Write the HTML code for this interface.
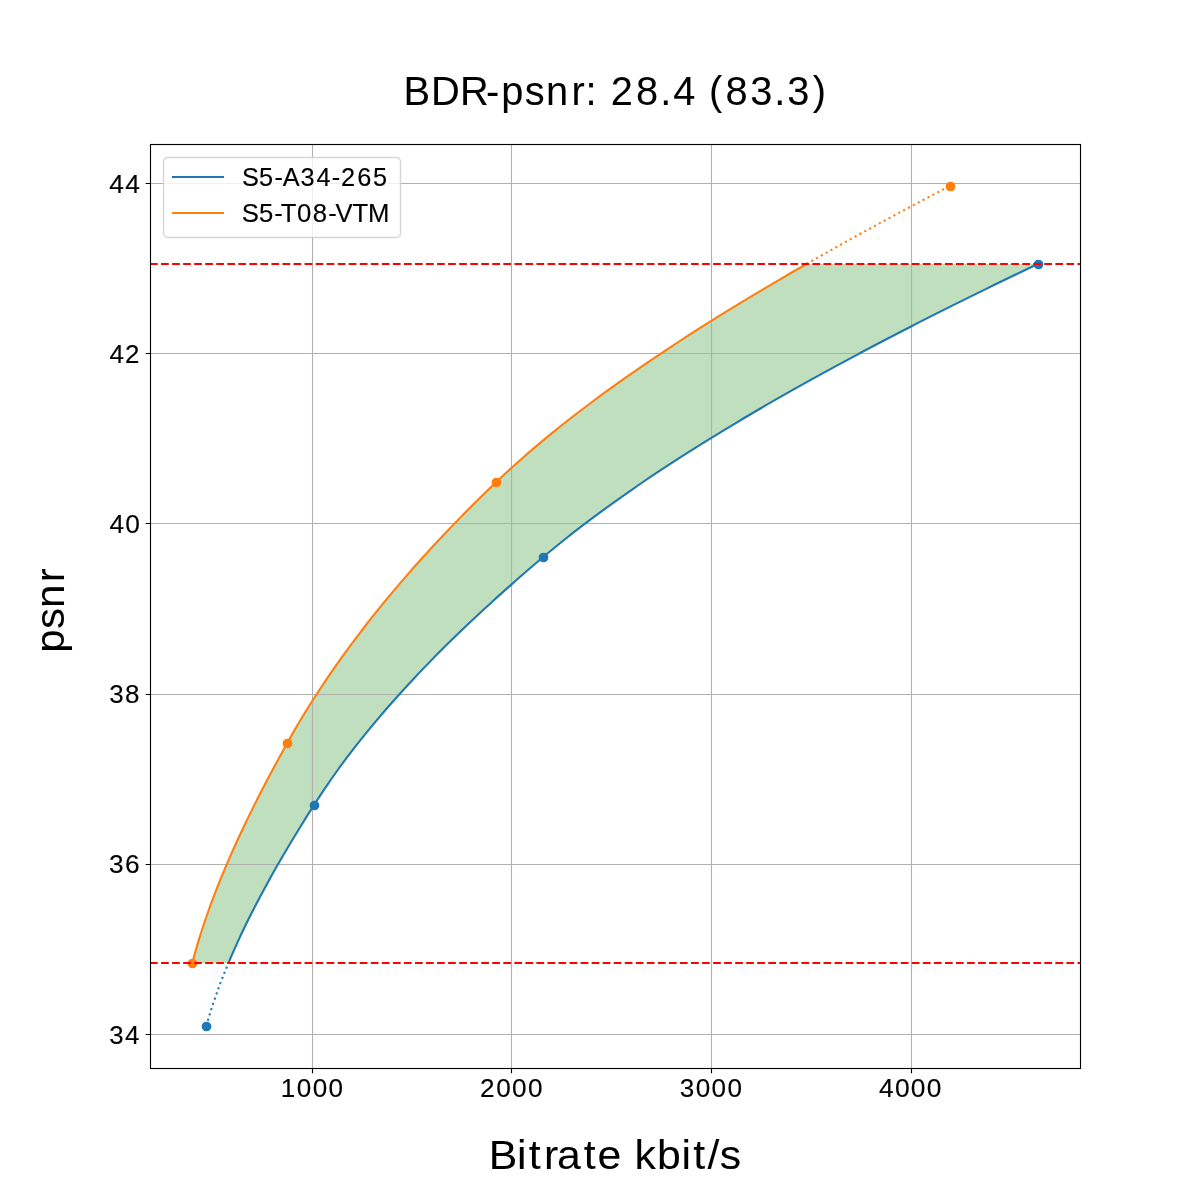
<!DOCTYPE html>
<html><head><meta charset="utf-8"><title>BDR-psnr chart</title>
<style>html,body{margin:0;padding:0;background:#fff;}svg{display:block;will-change:transform;}text{font-family:"Liberation Sans",sans-serif;fill:#000;stroke:#000;}.s{stroke-width:0.15px;}.l{stroke-width:0.05px;}</style>
</head><body>
<svg width="1200" height="1200" viewBox="0 0 1200 1200">
<rect x="0" y="0" width="1200" height="1200" fill="#ffffff"/>
<polygon points="228.49,962.91 229.97,959.4 231.47,955.89 233,952.37 234.55,948.86 236.13,945.35 237.72,941.84 239.34,938.33 240.98,934.81 242.64,931.3 244.32,927.79 246.03,924.28 247.75,920.77 249.49,917.25 251.26,913.74 253.04,910.23 254.84,906.72 256.67,903.2 258.51,899.69 260.36,896.18 262.24,892.67 264.13,889.16 266.05,885.64 267.97,882.13 269.92,878.62 271.88,875.11 273.86,871.59 275.85,868.08 277.86,864.57 279.89,861.06 281.92,857.55 283.98,854.03 286.05,850.52 288.13,847.01 290.22,843.5 292.33,839.98 294.45,836.47 296.59,832.96 298.73,829.45 300.89,825.94 303.06,822.42 305.24,818.91 307.44,815.4 309.64,811.89 311.86,808.38 314.08,804.86 316.32,801.35 318.6,797.84 320.91,794.33 323.25,790.81 325.62,787.3 328.02,783.79 330.45,780.28 332.92,776.77 335.41,773.25 337.94,769.74 340.5,766.23 343.08,762.72 345.7,759.2 348.35,755.69 351.02,752.18 353.73,748.67 356.47,745.16 359.23,741.64 362.03,738.13 364.85,734.62 367.71,731.11 370.59,727.59 373.51,724.08 376.45,720.57 379.42,717.06 382.42,713.55 385.45,710.03 388.5,706.52 391.59,703.01 394.7,699.5 397.84,695.99 401.01,692.47 404.21,688.96 407.43,685.45 410.68,681.94 413.96,678.42 417.27,674.91 420.6,671.4 423.96,667.89 427.35,664.38 430.77,660.86 434.21,657.35 437.67,653.84 441.17,650.33 444.69,646.81 448.24,643.3 451.81,639.79 455.41,636.28 459.03,632.77 462.68,629.25 466.36,625.74 470.06,622.23 473.79,618.72 477.54,615.2 481.31,611.69 485.12,608.18 488.94,604.67 492.79,601.16 496.67,597.64 500.57,594.13 504.49,590.62 508.44,587.11 512.41,583.6 516.41,580.08 520.43,576.57 524.48,573.06 528.54,569.55 532.63,566.03 536.75,562.52 540.89,559.01 545.05,555.5 549.26,551.99 553.52,548.47 557.83,544.96 562.18,541.45 566.59,537.94 571.04,534.42 575.54,530.91 580.09,527.4 584.69,523.89 589.34,520.38 594.03,516.86 598.77,513.35 603.55,509.84 608.38,506.33 613.26,502.81 618.18,499.3 623.15,495.79 628.16,492.28 633.21,488.77 638.32,485.25 643.46,481.74 648.65,478.23 653.89,474.72 659.16,471.21 664.48,467.69 669.85,464.18 675.25,460.67 680.7,457.16 686.19,453.64 691.72,450.13 697.3,446.62 702.91,443.11 708.57,439.6 714.26,436.08 720,432.57 725.78,429.06 731.6,425.55 737.45,422.03 743.35,418.52 749.29,415.01 755.26,411.5 761.27,407.99 767.32,404.47 773.41,400.96 779.54,397.45 785.71,393.94 791.91,390.42 798.15,386.91 804.42,383.4 810.73,379.89 817.08,376.38 823.47,372.86 829.89,369.35 836.34,365.84 842.83,362.33 849.36,358.82 855.92,355.3 862.51,351.79 869.14,348.28 875.8,344.77 882.5,341.25 889.23,337.74 895.99,334.23 902.78,330.72 909.61,327.21 916.47,323.69 923.36,320.18 930.28,316.67 937.24,313.16 944.22,309.64 951.24,306.13 958.28,302.62 965.36,299.11 972.46,295.6 979.6,292.08 986.77,288.57 993.96,285.06 1001.18,281.55 1008.44,278.03 1015.72,274.52 1023.03,271.01 1030.36,267.5 1037.73,263.99 806.51,263.99 800.39,267.5 794.3,271.01 788.24,274.52 782.21,278.03 776.21,281.55 770.25,285.06 764.32,288.57 758.42,292.08 752.56,295.6 746.73,299.11 740.93,302.62 735.16,306.13 729.43,309.64 723.74,313.16 718.08,316.67 712.45,320.18 706.86,323.69 701.3,327.21 695.78,330.72 690.3,334.23 684.85,337.74 679.44,341.25 674.07,344.77 668.74,348.28 663.44,351.79 658.18,355.3 652.96,358.82 647.77,362.33 642.63,365.84 637.53,369.35 632.46,372.86 627.43,376.38 622.45,379.89 617.5,383.4 612.6,386.91 607.73,390.42 602.91,393.94 598.13,397.45 593.39,400.96 588.69,404.47 584.03,407.99 579.42,411.5 574.85,415.01 570.32,418.52 565.84,422.03 561.4,425.55 557,429.06 552.65,432.57 548.35,436.08 544.08,439.6 539.87,443.11 535.7,446.62 531.57,450.13 527.49,453.64 523.46,457.16 519.47,460.67 515.53,464.18 511.64,467.69 507.8,471.21 504,474.72 500.25,478.23 496.55,481.74 492.89,485.25 489.25,488.77 485.64,492.28 482.05,495.79 478.48,499.3 474.93,502.81 471.41,506.33 467.91,509.84 464.44,513.35 460.98,516.86 457.55,520.38 454.14,523.89 450.76,527.4 447.4,530.91 444.06,534.42 440.75,537.94 437.46,541.45 434.19,544.96 430.94,548.47 427.72,551.99 424.52,555.5 421.34,559.01 418.19,562.52 415.06,566.03 411.95,569.55 408.87,573.06 405.81,576.57 402.77,580.08 399.75,583.6 396.76,587.11 393.79,590.62 390.85,594.13 387.92,597.64 385.02,601.16 382.15,604.67 379.3,608.18 376.46,611.69 373.66,615.2 370.87,618.72 368.11,622.23 365.38,625.74 362.66,629.25 359.97,632.77 357.3,636.28 354.66,639.79 352.03,643.3 349.43,646.81 346.86,650.33 344.3,653.84 341.77,657.35 339.27,660.86 336.78,664.38 334.32,667.89 331.89,671.4 329.47,674.91 327.08,678.42 324.71,681.94 322.37,685.45 320.05,688.96 317.75,692.47 315.47,695.99 313.22,699.5 310.99,703.01 308.78,706.52 306.6,710.03 304.44,713.55 302.31,717.06 300.19,720.57 298.1,724.08 296.03,727.59 293.99,731.11 291.97,734.62 289.97,738.13 288,741.64 286.04,745.16 284.1,748.67 282.16,752.18 280.24,755.69 278.32,759.2 276.42,762.72 274.52,766.23 272.64,769.74 270.77,773.25 268.91,776.77 267.05,780.28 265.22,783.79 263.39,787.3 261.57,790.81 259.77,794.33 257.98,797.84 256.2,801.35 254.44,804.86 252.68,808.38 250.95,811.89 249.22,815.4 247.51,818.91 245.81,822.42 244.13,825.94 242.46,829.45 240.81,832.96 239.17,836.47 237.55,839.98 235.94,843.5 234.35,847.01 232.78,850.52 231.22,854.03 229.68,857.55 228.15,861.06 226.64,864.57 225.15,868.08 223.68,871.59 222.22,875.11 220.78,878.62 219.36,882.13 217.96,885.64 216.58,889.16 215.22,892.67 213.87,896.18 212.55,899.69 211.24,903.2 209.95,906.72 208.69,910.23 207.44,913.74 206.22,917.25 205.01,920.77 203.83,924.28 202.67,927.79 201.53,931.3 200.41,934.81 199.31,938.33 198.24,941.84 197.19,945.35 196.16,948.86 195.15,952.37 194.17,955.89 193.21,959.4 192.27,962.91" fill="#008000" fill-opacity="0.25" stroke="none"/>
<path d="M312.5 144V1068 M511.5 144V1068 M711.5 144V1068 M911.5 144V1068 M150 183.5H1080 M150 353.5H1080 M150 523.5H1080 M150 694.5H1080 M150 864.5H1080 M150 1034.5H1080" stroke="#b0b0b0" stroke-width="1.1111" fill="none"/>
<polyline points="228.49,962.91 229.97,959.4 231.47,955.89 233,952.37 234.55,948.86 236.13,945.35 237.72,941.84 239.34,938.33 240.98,934.81 242.64,931.3 244.32,927.79 246.03,924.28 247.75,920.77 249.49,917.25 251.26,913.74 253.04,910.23 254.84,906.72 256.67,903.2 258.51,899.69 260.36,896.18 262.24,892.67 264.13,889.16 266.05,885.64 267.97,882.13 269.92,878.62 271.88,875.11 273.86,871.59 275.85,868.08 277.86,864.57 279.89,861.06 281.92,857.55 283.98,854.03 286.05,850.52 288.13,847.01 290.22,843.5 292.33,839.98 294.45,836.47 296.59,832.96 298.73,829.45 300.89,825.94 303.06,822.42 305.24,818.91 307.44,815.4 309.64,811.89 311.86,808.38 314.08,804.86 316.32,801.35 318.6,797.84 320.91,794.33 323.25,790.81 325.62,787.3 328.02,783.79 330.45,780.28 332.92,776.77 335.41,773.25 337.94,769.74 340.5,766.23 343.08,762.72 345.7,759.2 348.35,755.69 351.02,752.18 353.73,748.67 356.47,745.16 359.23,741.64 362.03,738.13 364.85,734.62 367.71,731.11 370.59,727.59 373.51,724.08 376.45,720.57 379.42,717.06 382.42,713.55 385.45,710.03 388.5,706.52 391.59,703.01 394.7,699.5 397.84,695.99 401.01,692.47 404.21,688.96 407.43,685.45 410.68,681.94 413.96,678.42 417.27,674.91 420.6,671.4 423.96,667.89 427.35,664.38 430.77,660.86 434.21,657.35 437.67,653.84 441.17,650.33 444.69,646.81 448.24,643.3 451.81,639.79 455.41,636.28 459.03,632.77 462.68,629.25 466.36,625.74 470.06,622.23 473.79,618.72 477.54,615.2 481.31,611.69 485.12,608.18 488.94,604.67 492.79,601.16 496.67,597.64 500.57,594.13 504.49,590.62 508.44,587.11 512.41,583.6 516.41,580.08 520.43,576.57 524.48,573.06 528.54,569.55 532.63,566.03 536.75,562.52 540.89,559.01 545.05,555.5 549.26,551.99 553.52,548.47 557.83,544.96 562.18,541.45 566.59,537.94 571.04,534.42 575.54,530.91 580.09,527.4 584.69,523.89 589.34,520.38 594.03,516.86 598.77,513.35 603.55,509.84 608.38,506.33 613.26,502.81 618.18,499.3 623.15,495.79 628.16,492.28 633.21,488.77 638.32,485.25 643.46,481.74 648.65,478.23 653.89,474.72 659.16,471.21 664.48,467.69 669.85,464.18 675.25,460.67 680.7,457.16 686.19,453.64 691.72,450.13 697.3,446.62 702.91,443.11 708.57,439.6 714.26,436.08 720,432.57 725.78,429.06 731.6,425.55 737.45,422.03 743.35,418.52 749.29,415.01 755.26,411.5 761.27,407.99 767.32,404.47 773.41,400.96 779.54,397.45 785.71,393.94 791.91,390.42 798.15,386.91 804.42,383.4 810.73,379.89 817.08,376.38 823.47,372.86 829.89,369.35 836.34,365.84 842.83,362.33 849.36,358.82 855.92,355.3 862.51,351.79 869.14,348.28 875.8,344.77 882.5,341.25 889.23,337.74 895.99,334.23 902.78,330.72 909.61,327.21 916.47,323.69 923.36,320.18 930.28,316.67 937.24,313.16 944.22,309.64 951.24,306.13 958.28,302.62 965.36,299.11 972.46,295.6 979.6,292.08 986.77,288.57 993.96,285.06 1001.18,281.55 1008.44,278.03 1015.72,274.52 1023.03,271.01 1030.36,267.5 1037.73,263.99" fill="none" stroke="#1f77b4" stroke-width="2.0833" stroke-linecap="square" stroke-linejoin="round"/>
<polyline points="192.27,962.91 193.21,959.4 194.17,955.89 195.15,952.37 196.16,948.86 197.19,945.35 198.24,941.84 199.31,938.33 200.41,934.81 201.53,931.3 202.67,927.79 203.83,924.28 205.01,920.77 206.22,917.25 207.44,913.74 208.69,910.23 209.95,906.72 211.24,903.2 212.55,899.69 213.87,896.18 215.22,892.67 216.58,889.16 217.96,885.64 219.36,882.13 220.78,878.62 222.22,875.11 223.68,871.59 225.15,868.08 226.64,864.57 228.15,861.06 229.68,857.55 231.22,854.03 232.78,850.52 234.35,847.01 235.94,843.5 237.55,839.98 239.17,836.47 240.81,832.96 242.46,829.45 244.13,825.94 245.81,822.42 247.51,818.91 249.22,815.4 250.95,811.89 252.68,808.38 254.44,804.86 256.2,801.35 257.98,797.84 259.77,794.33 261.57,790.81 263.39,787.3 265.22,783.79 267.05,780.28 268.91,776.77 270.77,773.25 272.64,769.74 274.52,766.23 276.42,762.72 278.32,759.2 280.24,755.69 282.16,752.18 284.1,748.67 286.04,745.16 288,741.64 289.97,738.13 291.97,734.62 293.99,731.11 296.03,727.59 298.1,724.08 300.19,720.57 302.31,717.06 304.44,713.55 306.6,710.03 308.78,706.52 310.99,703.01 313.22,699.5 315.47,695.99 317.75,692.47 320.05,688.96 322.37,685.45 324.71,681.94 327.08,678.42 329.47,674.91 331.89,671.4 334.32,667.89 336.78,664.38 339.27,660.86 341.77,657.35 344.3,653.84 346.86,650.33 349.43,646.81 352.03,643.3 354.66,639.79 357.3,636.28 359.97,632.77 362.66,629.25 365.38,625.74 368.11,622.23 370.87,618.72 373.66,615.2 376.46,611.69 379.3,608.18 382.15,604.67 385.02,601.16 387.92,597.64 390.85,594.13 393.79,590.62 396.76,587.11 399.75,583.6 402.77,580.08 405.81,576.57 408.87,573.06 411.95,569.55 415.06,566.03 418.19,562.52 421.34,559.01 424.52,555.5 427.72,551.99 430.94,548.47 434.19,544.96 437.46,541.45 440.75,537.94 444.06,534.42 447.4,530.91 450.76,527.4 454.14,523.89 457.55,520.38 460.98,516.86 464.44,513.35 467.91,509.84 471.41,506.33 474.93,502.81 478.48,499.3 482.05,495.79 485.64,492.28 489.25,488.77 492.89,485.25 496.55,481.74 500.25,478.23 504,474.72 507.8,471.21 511.64,467.69 515.53,464.18 519.47,460.67 523.46,457.16 527.49,453.64 531.57,450.13 535.7,446.62 539.87,443.11 544.08,439.6 548.35,436.08 552.65,432.57 557,429.06 561.4,425.55 565.84,422.03 570.32,418.52 574.85,415.01 579.42,411.5 584.03,407.99 588.69,404.47 593.39,400.96 598.13,397.45 602.91,393.94 607.73,390.42 612.6,386.91 617.5,383.4 622.45,379.89 627.43,376.38 632.46,372.86 637.53,369.35 642.63,365.84 647.77,362.33 652.96,358.82 658.18,355.3 663.44,351.79 668.74,348.28 674.07,344.77 679.44,341.25 684.85,337.74 690.3,334.23 695.78,330.72 701.3,327.21 706.86,323.69 712.45,320.18 718.08,316.67 723.74,313.16 729.43,309.64 735.16,306.13 740.93,302.62 746.73,299.11 752.56,295.6 758.42,292.08 764.32,288.57 770.25,285.06 776.21,281.55 782.21,278.03 788.24,274.52 794.3,271.01 800.39,267.5 806.51,263.99" fill="none" stroke="#ff7f0e" stroke-width="2.0833" stroke-linecap="square" stroke-linejoin="round"/>
<polyline points="206.26,1026 206.63,1024.71 207,1023.42 207.37,1022.14 207.74,1020.85 208.12,1019.56 208.51,1018.27 208.9,1016.99 209.29,1015.7 209.68,1014.41 210.08,1013.12 210.49,1011.84 210.89,1010.55 211.3,1009.26 211.72,1007.97 212.14,1006.69 212.56,1005.4 212.99,1004.11 213.42,1002.82 213.85,1001.54 214.29,1000.25 214.73,998.96 215.17,997.67 215.62,996.39 216.07,995.1 216.52,993.81 216.98,992.52 217.45,991.24 217.91,989.95 218.38,988.66 218.85,987.37 219.33,986.09 219.81,984.8 220.29,983.51 220.78,982.22 221.27,980.94 221.76,979.65 222.26,978.36 222.76,977.07 223.27,975.79 223.77,974.5 224.28,973.21 224.8,971.92 225.32,970.64 225.84,969.35 226.36,968.06 226.89,966.77 227.42,965.49 227.95,964.2 228.49,962.91" fill="none" stroke="#1f77b4" stroke-width="2.0833" stroke-dasharray="2.083 3.4375" stroke-linejoin="round"/>
<polyline points="806.51,263.99 809.29,262.39 812.08,260.8 814.88,259.21 817.68,257.62 820.49,256.03 823.3,254.44 826.12,252.85 828.95,251.25 831.78,249.66 834.62,248.07 837.47,246.48 840.32,244.89 843.18,243.3 846.04,241.7 848.91,240.11 851.78,238.52 854.66,236.93 857.55,235.34 860.44,233.75 863.34,232.16 866.25,230.56 869.16,228.97 872.07,227.38 874.99,225.79 877.92,224.2 880.85,222.61 883.79,221.01 886.73,219.42 889.68,217.83 892.64,216.24 895.6,214.65 898.56,213.06 901.53,211.46 904.51,209.87 907.49,208.28 910.48,206.69 913.47,205.1 916.47,203.51 919.47,201.92 922.48,200.32 925.49,198.73 928.51,197.14 931.53,195.55 934.56,193.96 937.6,192.37 940.64,190.77 943.68,189.18 946.73,187.59 949.78,186" fill="none" stroke="#ff7f0e" stroke-width="2.0833" stroke-dasharray="2.083 3.4375" stroke-linejoin="round"/>
<circle cx="206.5" cy="1026.5" r="4.167" fill="#1f77b4" stroke="#1f77b4" stroke-width="1.3889"/>
<circle cx="314.5" cy="805.5" r="4.167" fill="#1f77b4" stroke="#1f77b4" stroke-width="1.3889"/>
<circle cx="543.5" cy="557.5" r="4.167" fill="#1f77b4" stroke="#1f77b4" stroke-width="1.3889"/>
<circle cx="1038.5" cy="264.5" r="4.167" fill="#1f77b4" stroke="#1f77b4" stroke-width="1.3889"/>
<circle cx="192.5" cy="963.5" r="4.167" fill="#ff7f0e" stroke="#ff7f0e" stroke-width="1.3889"/>
<circle cx="287.5" cy="743.5" r="4.167" fill="#ff7f0e" stroke="#ff7f0e" stroke-width="1.3889"/>
<circle cx="496.5" cy="482.5" r="4.167" fill="#ff7f0e" stroke="#ff7f0e" stroke-width="1.3889"/>
<circle cx="950.5" cy="186.5" r="4.167" fill="#ff7f0e" stroke="#ff7f0e" stroke-width="1.3889"/>
<path d="M150 963.0H1080" stroke="#ff0000" stroke-width="2.0833" stroke-dasharray="7.708 3.333" fill="none"/>
<path d="M150 264.0H1080" stroke="#ff0000" stroke-width="2.0833" stroke-dasharray="7.708 3.333" fill="none"/>
<rect x="150.5" y="144.5" width="930" height="924" fill="none" stroke="#000000" stroke-width="1.1111"/>
<path d="M312.5 1068.5V1073.36 M511.5 1068.5V1073.36 M711.5 1068.5V1073.36 M911.5 1068.5V1073.36 M150.5 183.5H145.64 M150.5 353.5H145.64 M150.5 523.5H145.64 M150.5 694.5H145.64 M150.5 864.5H145.64 M150.5 1034.5H145.64" stroke="#000000" stroke-width="1.1111" fill="none"/>
<text transform="translate(0 1097) scale(0.9845 1)" x="285.13 301.42 317.57 333.73" y="0" font-size="26.49" class="s">1000</text>
<text transform="translate(0 1097) scale(0.9862 1)" x="486.69 503.15 519.28 535.41" y="0" font-size="26.49" class="s">2000</text>
<text transform="translate(0 1097) scale(0.9850 1)" x="690.12 706.23 722.38 738.53" y="0" font-size="26.49" class="s">3000</text>
<text transform="translate(0 1097) scale(0.9949 1)" x="883.57 899.56 915.54 931.53" y="0" font-size="26.49" class="s">4000</text>
<text transform="translate(0 193) scale(0.9949 1)" x="109.86 125.84" y="0" font-size="26.49" class="s">44</text>
<text transform="translate(0 363) scale(0.9778 1)" x="111.96 127.89" y="0" font-size="26.49" class="s">42</text>
<text transform="translate(0 533) scale(0.9949 1)" x="109.99 125.98" y="0" font-size="26.49" class="s">40</text>
<text transform="translate(0 703) scale(0.9804 1)" x="111.44 127.63" y="0" font-size="26.49" class="s">38</text>
<text transform="translate(0 873) scale(0.9920 1)" x="109.98 125.98" y="0" font-size="26.49" class="s">36</text>
<text transform="translate(0 1044) scale(0.9758 1)" x="111.85 128.11" y="0" font-size="26.49" class="s">34</text>
<text transform="translate(0 1169.1) scale(1.0390 1)" x="470.31 497.62 508.88 523.56 536 561.88 575.18 598.08 610.74 632.29 656.05 667.32 681.07 692.82" y="0" font-size="41.21" class="l">Bitrate kbit/s</text>
<text transform="translate(63.9 653.56) rotate(-90) scale(1.0193 1)" x="0.88 24.13 44.81 69.96" y="0" font-size="41.21" class="l">psnr</text>
<text transform="translate(0 104.8) scale(0.9664 1)" x="417.61 445.9 475.95 502.92 518.62 543.04 564.93 591.26 605.95 618.45 632.04 658.17 683.09 696.56 720.83 733.57 750.65 776.31 801.18 814.7 840.95" y="0" font-size="41.21" class="l">BDR-psnr: 28.4 (83.3)</text>
<rect x="163.5" y="157.5" width="237" height="80" rx="4.2" ry="4.2" fill="#ffffff" fill-opacity="0.8" stroke="#cccccc" stroke-opacity="0.8" stroke-width="1.3889"/>
<path d="M173 177H223" stroke="#1f77b4" stroke-width="2.0833" stroke-linecap="square"/>
<path d="M173 213H223" stroke="#ff7f0e" stroke-width="2.0833" stroke-linecap="square"/>
<text transform="translate(0 186) scale(0.9557 1)" x="253.15 270.99 287.1 295.76 314.53 331.13 347.14 356.87 373.87 390.4" y="0" font-size="26.49" class="s">S5-A34-265</text>
<text transform="translate(0 222) scale(0.9705 1)" x="249.2 266.8 282.7 289.18 305.95 322.34 338.15 345.67 363.1 379.14" y="0" font-size="26.49" class="s">S5-T08-VTM</text>
</svg>
</body></html>
